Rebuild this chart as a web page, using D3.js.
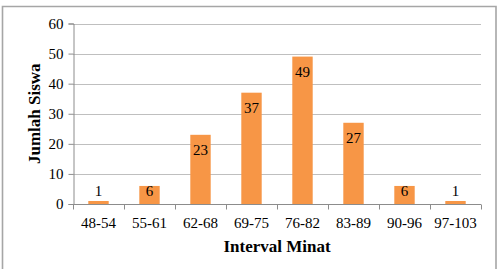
<!DOCTYPE html>
<html>
<head>
<meta charset="utf-8">
<script src="https://cdn.jsdelivr.net/npm/d3@7"></script>
<style>
  html, body { margin: 0; padding: 0; background: #fff; }
  svg { display: block; }
  text { font-family: "Liberation Serif", "Times New Roman", serif; fill: #000; }
</style>
</head>
<body>
<svg id="chart" width="497" height="269"></svg>
<script>
const categories = ["48-54", "55-61", "62-68", "69-75", "76-82", "83-89", "90-96", "97-103"];
const values = [1, 6, 23, 37, 49, 27, 6, 1];
const yTicks = [0, 10, 20, 30, 40, 50, 60];
const xTitle = "Interval Minat";
const yTitle = "Jumlah Siswa";

const svg = d3.select("#chart");
const W = 497, H = 269;
const m = { left: 73, right: 16, top: 23.5, bottom: 65 };
const plotRight = W - m.right;   // ~481
const plotBottom = H - m.bottom; // ~204

// outer chart border
svg.append("path")
  .attr("d", `M2.5,${H} L2.5,6.5 L496,6.5 L496,${H}`)
  .attr("fill", "none")
  .attr("stroke", "#a6a6a6")
  .attr("stroke-width", 1.6);

const x = d3.scaleBand().domain(categories).range([m.left, plotRight]).paddingInner(0.6).paddingOuter(0.3);
const xOuter = d3.scaleBand().domain(categories).range([m.left, plotRight]).padding(0);
const y = d3.scaleLinear().domain([0, 60]).range([plotBottom, m.top]);

// gridlines
svg.append("g").selectAll("line").data(yTicks.filter(d => d > 0)).join("line")
  .attr("x1", m.left).attr("x2", plotRight)
  .attr("y1", d => Math.round(y(d)) + 0.5).attr("y2", d => Math.round(y(d)) + 0.5)
  .attr("stroke", "#bfbfbf").attr("stroke-width", 1);

// y axis
const yAxis = svg.append("g").attr("transform", `translate(${m.left + 0.5},0)`)
  .call(d3.axisLeft(y).tickValues(yTicks).tickSize(5).tickPadding(5));
yAxis.select(".domain").attr("stroke", "#8c8c8c");
yAxis.selectAll(".tick line").attr("stroke", "#8c8c8c");
yAxis.selectAll(".tick text").attr("font-size", 15).attr("font-family", "Liberation Serif");

// bars
svg.append("g").selectAll("rect").data(values).join("rect")
  .attr("x", (d, i) => x(categories[i]))
  .attr("width", x.bandwidth())
  .attr("y", d => y(d))
  .attr("height", d => plotBottom - y(d))
  .attr("fill", "#f79646");

// x axis
const xAxis = svg.append("g").attr("transform", `translate(0,${Math.round(plotBottom) + 0.5})`);
xAxis.append("line").attr("x1", m.left).attr("x2", plotRight).attr("stroke", "#8c8c8c");
xAxis.selectAll("line.tk").data(d3.range(categories.length + 1)).join("line")
  .attr("class", "tk")
  .attr("x1", i => Math.round(m.left + i * xOuter.step()) + 0.5)
  .attr("x2", i => Math.round(m.left + i * xOuter.step()) + 0.5)
  .attr("y1", 0).attr("y2", 5)
  .attr("stroke", "#8c8c8c");
xAxis.selectAll("text").data(categories).join("text")
  .attr("x", d => xOuter(d) + xOuter.bandwidth() / 2)
  .attr("y", 23)
  .attr("text-anchor", "middle")
  .attr("font-size", 15)
  .text(d => d);

// data labels
svg.append("g").selectAll("text").data(values).join("text")
  .attr("x", (d, i) => x(categories[i]) + x.bandwidth() / 2)
  .attr("y", d => Math.min(y(d) + 15.5, y(0) - 13) + 5)
  .attr("text-anchor", "middle")
  .attr("font-size", 15)
  .text(d => d);

// axis titles
svg.append("text")
  .attr("x", (m.left + plotRight) / 2)
  .attr("y", 252)
  .attr("text-anchor", "middle")
  .attr("font-size", 17)
  .attr("font-weight", "bold")
  .text(xTitle);

svg.append("text")
  .attr("transform", `translate(40,${(m.top + plotBottom) / 2}) rotate(-90)`)
  .attr("text-anchor", "middle")
  .attr("font-size", 17)
  .attr("font-weight", "bold")
  .text(yTitle);
</script>
</body>
</html>
